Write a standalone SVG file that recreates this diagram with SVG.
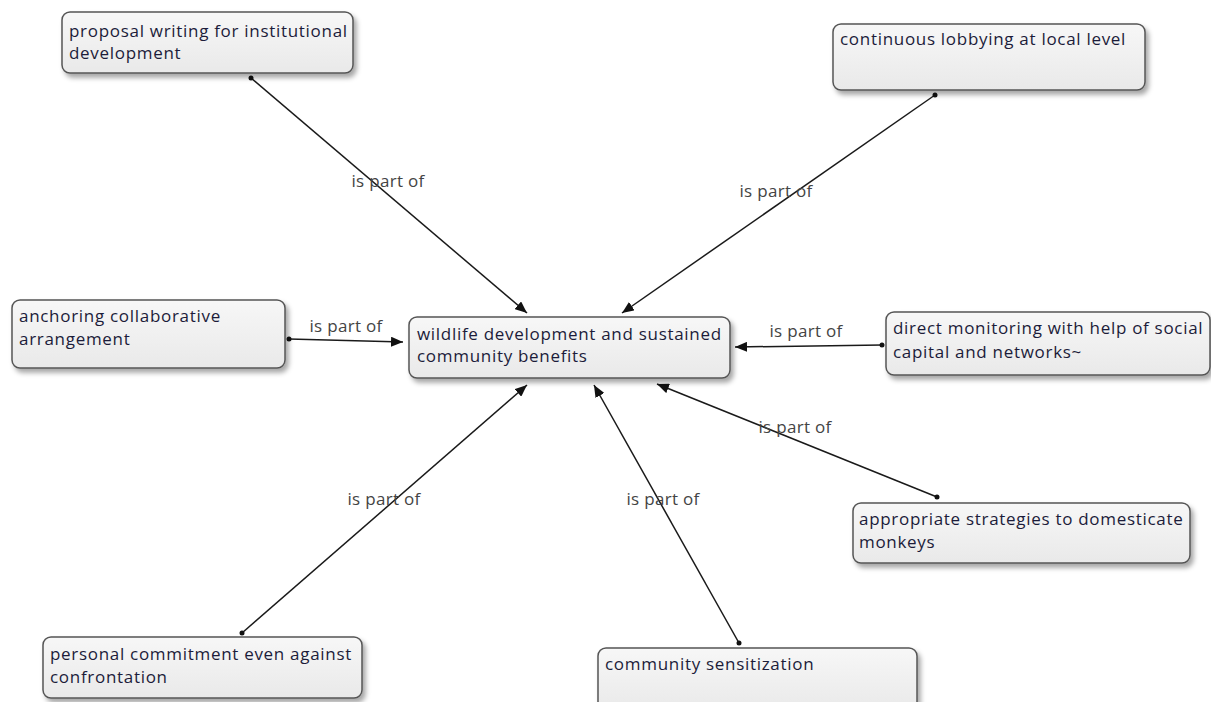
<svg xmlns="http://www.w3.org/2000/svg" width="1211" height="702" viewBox="0 0 1211 702">
<style>
.box{fill:url(#g);stroke:#555;stroke-width:1.5;filter:url(#sh)}
.t{font-family:"Open Sans","DejaVu Sans",sans-serif;font-size:17px;letter-spacing:0.7px;fill:#1c1c3a}
.lbl{font-family:"Open Sans","DejaVu Sans",sans-serif;font-size:17px;letter-spacing:0.3px;fill:#444}
.e{stroke:#1a1a1a;stroke-width:1.5;fill:none;marker-end:url(#ar);marker-start:url(#dot)}
</style>
<defs>
<linearGradient id="g" x1="0" y1="0" x2="0" y2="1"><stop offset="0" stop-color="#f7f7f7"/><stop offset="1" stop-color="#e9e9e9"/></linearGradient>
<filter id="sh" x="-10%" y="-20%" width="120%" height="150%"><feDropShadow dx="3" dy="4" stdDeviation="2.5" flood-color="#000" flood-opacity="0.35"/></filter>
<marker id="ar" viewBox="0 0 12 10" refX="12" refY="5" markerWidth="12" markerHeight="10" markerUnits="userSpaceOnUse" orient="auto"><path d="M0,0 L12,5 L0,10 z" fill="#111"/></marker>
<marker id="dot" viewBox="0 0 6 6" refX="3" refY="3" markerWidth="6" markerHeight="6" markerUnits="userSpaceOnUse"><circle cx="3" cy="3" r="2.5" fill="#111"/></marker>
</defs>
<g id="connectors">
<line class="e" x1="251" y1="78" x2="527" y2="313"/>
<line class="e" x1="935" y1="95" x2="622" y2="313"/>
<line class="e" x1="289" y1="339" x2="403" y2="342"/>
<line class="e" x1="882" y1="345" x2="735" y2="347"/>
<line class="e" x1="937" y1="497" x2="657" y2="384"/>
<line class="e" x1="739" y1="643" x2="594" y2="385"/>
<line class="e" x1="242" y1="633" x2="527" y2="385"/>
<text class="lbl" x="388" y="187" text-anchor="middle">is part of</text>
<text class="lbl" x="776" y="197" text-anchor="middle">is part of</text>
<text class="lbl" x="346" y="332" text-anchor="middle">is part of</text>
<text class="lbl" x="806" y="337" text-anchor="middle">is part of</text>
<text class="lbl" x="795" y="433" text-anchor="middle">is part of</text>
<text class="lbl" x="663" y="505" text-anchor="middle">is part of</text>
<text class="lbl" x="384" y="505" text-anchor="middle">is part of</text>
</g>
<g id="n-proposal"><rect class="box" x="62" y="12" width="291" height="61" rx="8"/><text class="t" x="69" y="37">proposal writing for institutional</text><text class="t" x="69" y="59">development</text></g>
<g id="n-continuous"><rect class="box" x="833" y="24" width="312" height="66" rx="8"/><text class="t" x="840" y="45">continuous lobbying at local level</text></g>
<g id="n-anchoring"><rect class="box" x="12" y="300" width="273" height="68" rx="8"/><text class="t" x="19" y="322">anchoring collaborative</text><text class="t" x="19" y="345">arrangement</text></g>
<g id="n-central"><rect class="box" x="409" y="317" width="321" height="61" rx="8"/><text class="t" x="417" y="340">wildlife development and sustained</text><text class="t" x="417" y="362">community benefits</text></g>
<g id="n-direct"><rect class="box" x="886" y="312" width="324" height="63" rx="8"/><text class="t" x="893" y="334">direct monitoring with help of social</text><text class="t" x="893" y="358">capital and networks~</text></g>
<g id="n-appropriate"><rect class="box" x="853" y="503" width="337" height="60" rx="8"/><text class="t" x="859" y="525">appropriate strategies to domesticate</text><text class="t" x="859" y="548">monkeys</text></g>
<g id="n-personal"><rect class="box" x="43" y="637" width="319" height="61" rx="8"/><text class="t" x="50" y="660">personal commitment even against</text><text class="t" x="50" y="683">confrontation</text></g>
<g id="n-community"><rect class="box" x="598" y="648" width="319" height="64" rx="8"/><text class="t" x="605" y="670">community sensitization</text></g>
</svg>
